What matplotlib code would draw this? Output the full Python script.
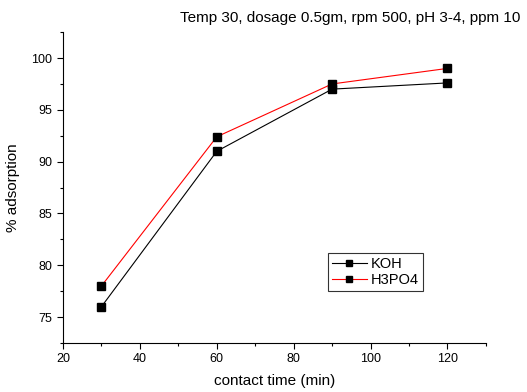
import matplotlib
matplotlib.use("Agg")
import matplotlib.pyplot as plt
from matplotlib.ticker import MultipleLocator

plt.rcParams['font.family'] = ['Liberation Sans', 'DejaVu Sans']

time = [30, 60, 90, 120]
koh = [76.0, 91.0, 97.0, 97.6]
h3po4 = [78.0, 92.4, 97.5, 99.0]
title = "Temp 30, dosage 0.5gm, rpm 500, pH 3-4, ppm 10"

fig = plt.figure(figsize=(5.27, 3.92), dpi=100)
ax = fig.add_axes([0.1195, 0.125, 0.8025, 0.793])

ax.plot(time, koh, color='black', lw=0.8, marker='s', ms=5.5, mfc='black', mec='black', label='KOH')
ax.plot(time, h3po4, color='red', lw=0.8, marker='s', ms=5.5, mfc='black', mec='black', label='H3PO4')

ax.set_xlim(20, 130)
ax.set_ylim(72.5, 102.5)
ax.xaxis.set_major_locator(MultipleLocator(20))
ax.xaxis.set_minor_locator(MultipleLocator(10))
ax.yaxis.set_major_locator(MultipleLocator(5))
ax.yaxis.set_minor_locator(MultipleLocator(2.5))
ax.spines['top'].set_visible(False)
ax.spines['right'].set_visible(False)
ax.tick_params(which='major', direction='out', length=4, width=0.8, labelsize=9)
ax.tick_params(which='minor', direction='out', length=2.5, width=0.8)

ax.set_xlabel('contact time (min)', fontsize=11, labelpad=6)
ax.set_ylabel('% adsorption', fontsize=11, labelpad=8)
fig.text(0.987, 0.955, title, ha='right', va='center', fontsize=11)

leg = ax.legend(loc='upper left', bbox_to_anchor=(0.627, 0.288), fontsize=10.5,
                frameon=True, fancybox=False, edgecolor='black', handlelength=2.4,
                handletextpad=0.3, borderpad=0.25, labelspacing=0.15, borderaxespad=0,
                markerscale=0.75)
leg.get_frame().set_linewidth(0.8)

fig.savefig('out.png', dpi=100)
